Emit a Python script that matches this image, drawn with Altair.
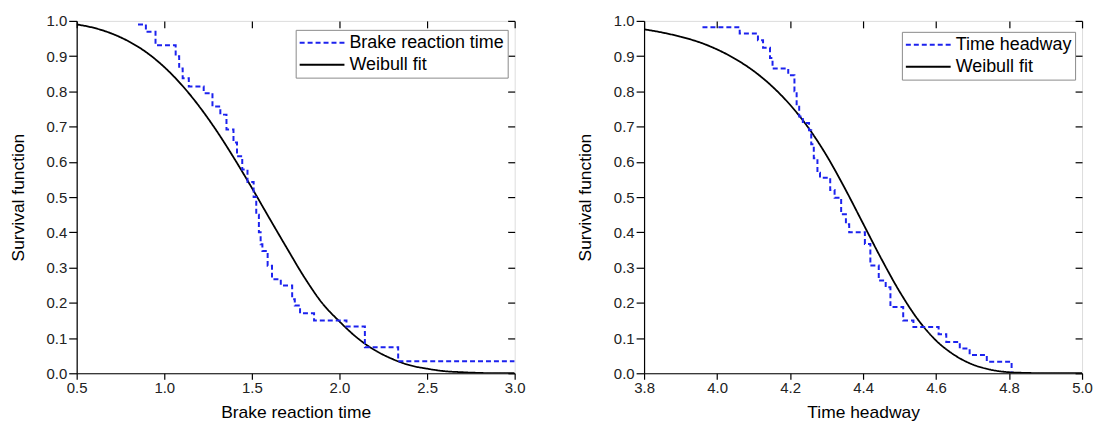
import altair as alt
import pandas as pd

# ---------------- data ----------------
# Left panel: empirical survival (step) of brake reaction time
brake_x = [0.85, 0.895, 0.95, 1.065, 1.085, 1.105, 1.14, 1.225, 1.275, 1.32,
           1.355, 1.395, 1.415, 1.445, 1.475, 1.51, 1.525, 1.54, 1.55, 1.56,
           1.59, 1.615, 1.665, 1.73, 1.745, 1.775, 1.855, 2.04, 2.145, 2.335, 3.0]
brake_s = [0.99, 0.969, 0.931, 0.90, 0.865, 0.837, 0.814, 0.795, 0.757, 0.734,
           0.692, 0.655, 0.616, 0.578, 0.543, 0.50, 0.45, 0.40, 0.366, 0.347,
           0.305, 0.267, 0.249, 0.21, 0.192, 0.170, 0.150, 0.133, 0.074, 0.034, 0.034]
# Left panel: Weibull fit curve
brake_fit_x = [0.5, 0.6, 0.7, 0.8, 0.9, 1.0, 1.1, 1.2, 1.3, 1.4, 1.5, 1.6, 1.7,
               1.8, 1.9, 2.0, 2.1, 2.2, 2.3, 2.4, 2.5, 2.6, 2.7, 2.8, 2.9, 3.0]
brake_fit_s = [0.990, 0.980, 0.964, 0.941, 0.910, 0.869, 0.818, 0.757, 0.687,
               0.609, 0.526, 0.440, 0.355, 0.272, 0.200, 0.147, 0.101, 0.066,
               0.041, 0.023, 0.013, 0.006, 0.003, 0.001, 0.0, 0.0]

# Right panel: empirical survival (step) of time headway
head_x = [3.96, 4.062, 4.112, 4.126, 4.145, 4.152, 4.195, 4.212, 4.218, 4.225,
          4.235, 4.252, 4.258, 4.265, 4.275, 4.282, 4.31, 4.322, 4.34, 4.353,
          4.362, 4.405, 4.42, 4.443, 4.462, 4.475, 4.51, 4.538, 4.607, 4.628,
          4.665, 4.692, 4.739, 4.807]
head_s = [0.982, 0.964, 0.945, 0.924, 0.895, 0.865, 0.846, 0.80, 0.76, 0.729,
          0.710, 0.69, 0.65, 0.61, 0.569, 0.555, 0.52, 0.498, 0.451, 0.423,
          0.40, 0.367, 0.306, 0.263, 0.244, 0.188, 0.150, 0.131, 0.111, 0.089,
          0.070, 0.052, 0.033, 0.005]
# Right panel: Weibull fit curve
head_fit_x = [3.80, 3.85, 3.90, 3.95, 4.00, 4.05, 4.10, 4.15, 4.20, 4.25, 4.30,
              4.35, 4.40, 4.45, 4.50, 4.55, 4.60, 4.65, 4.70, 4.75, 4.80, 4.85,
              4.90, 5.00]
head_fit_s = [0.976, 0.967, 0.955, 0.940, 0.919, 0.892, 0.858, 0.815, 0.762,
              0.697, 0.618, 0.525, 0.425, 0.325, 0.232, 0.153, 0.093, 0.052,
              0.025, 0.010, 0.003, 0.001, 0.0, 0.0]

brake_ticks = [0.5, 1.0, 1.5, 2.0, 2.5, 3.0]
head_ticks = [3.8, 4.0, 4.2, 4.4, 4.6, 4.8, 5.0]
y_ticks = [0.0, 0.1, 0.2, 0.3, 0.4, 0.5, 0.6, 0.7, 0.8, 0.9, 1.0]

FONT = "Liberation Sans"
BLUE = "#1c22ee"
FIT = "Weibull fit"


def panel(step_x, step_s, fit_x, fit_s, label, xdomain, xticks, xtitle, lx, ly):
    step_df = pd.DataFrame({"x": step_x, "S": step_s, "series": label})
    fit_df = pd.DataFrame({"x": fit_x, "S": fit_s, "series": FIT})

    xs = alt.Scale(domain=xdomain, nice=False, zero=False)
    ys = alt.Scale(domain=[0, 1], nice=False, zero=False)

    leg = alt.Legend(
        orient="none", legendX=lx, legendY=ly, title=None,
        symbolType="stroke", symbolSize=2025, symbolStrokeWidth=2,
        clipHeight=20,
        labelFont=FONT, labelFontSize=18, labelColor="black", labelOffset=4,
        strokeColor="#8a8a8a", fillColor="white", padding=3, rowPadding=2,
        cornerRadius=0,
    )
    color = alt.Color("series:N", legend=leg,
                      scale=alt.Scale(domain=[label, FIT], range=[BLUE, "black"]))
    dash = alt.StrokeDash("series:N", legend=leg,
                          scale=alt.Scale(domain=[label, FIT], range=[[5, 3], [1, 0]]))

    x_main = alt.X("x:Q", scale=xs, title=xtitle, axis=alt.Axis(
        values=xticks, format=".1f", grid=False, tickSize=6, labelPadding=1,
        labelFont=FONT, labelFontSize=15, labelColor="#222",
        titleFont=FONT, titleFontSize=17.5, titleFontWeight="normal",
        titleColor="black", titlePadding=8, domainColor="black",
        tickColor="black", domainWidth=1.2, tickWidth=1.2, labelFlush=False))
    y_main = alt.Y("S:Q", scale=ys, title="Survival function", axis=alt.Axis(
        values=y_ticks, format=".1f", grid=False, tickSize=8, labelPadding=2,
        labelFont=FONT, labelFontSize=15, labelColor="#222",
        titleFont=FONT, titleFontSize=17.5, titleFontWeight="normal",
        titleColor="black", titlePadding=19, domainColor="black",
        tickColor="black", domainWidth=1.2, tickWidth=1.2, labelFlush=False))

    fit = alt.Chart(fit_df).mark_line(
        interpolate="monotone", strokeWidth=1.8, clip=True
    ).encode(x=x_main, y=y_main, color=color, strokeDash=dash)

    step = alt.Chart(step_df).mark_line(
        interpolate="step-after", strokeWidth=2, clip=True
    ).encode(
        x=alt.X("x:Q", scale=xs, axis=None),
        y=alt.Y("S:Q", scale=ys, axis=None),
        color=color, strokeDash=dash,
    )

    mirror = alt.Chart(fit_df).mark_line(opacity=0).encode(
        x=alt.X("x:Q", scale=xs, title="", axis=alt.Axis(
            orient="top", values=xticks, labels=False, domain=False, grid=False,
            ticks=True, tickSize=7, offset=-7, tickColor="black", tickWidth=1.2)),
        y=alt.Y("S:Q", scale=ys, title="", axis=alt.Axis(
            orient="right", values=y_ticks, labels=False, domain=False, grid=False,
            ticks=True, tickSize=7, offset=-7, tickColor="black", tickWidth=1.2)),
    )

    return alt.layer(fit, step, mirror).resolve_axis(
        x="independent", y="independent"
    ).properties(width=440, height=354)


left = panel(brake_x, brake_s, brake_fit_x, brake_fit_s, "Brake reaction time",
             [0.5, 3.0], brake_ticks, "Brake reaction time", 220, 9)
right = panel(head_x, head_s, head_fit_x, head_fit_s, "Time headway",
              [3.8, 5.0], head_ticks, "Time headway", 259, 11)

chart = alt.hconcat(left, right, spacing=50).resolve_scale(
    color="independent", strokeDash="independent"
).resolve_legend(
    color="independent", strokeDash="independent"
).properties(
    padding={"left": 0, "top": 4, "right": 0, "bottom": 0}
).configure_view(
    stroke="black", strokeWidth=1.2
).configure(
    background="white"
)

chart.save("out.html", embed_options={"renderer": "svg", "actions": False})
